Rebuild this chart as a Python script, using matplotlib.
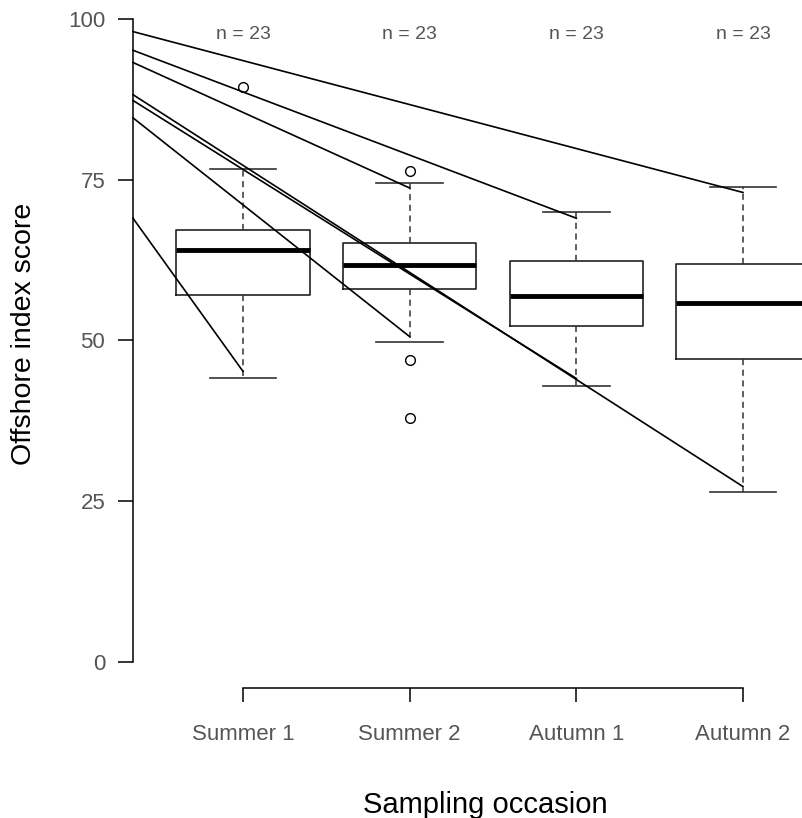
import matplotlib
matplotlib.use("Agg")
import matplotlib.pyplot as plt

# sampling occasions and box summaries
occasions = ["Summer 1", "Summer 2", "Autumn 1", "Autumn 2"]
n_obs = [23, 23, 23, 23]
q1 = [57.1, 58.0, 52.2, 47.1]
medians = [64.1, 61.7, 56.9, 55.8]
q3 = [67.2, 65.1, 62.3, 61.9]
whisk_lo = [44.2, 49.7, 42.9, 26.4]
whisk_hi = [76.7, 74.5, 70.0, 73.9]
outliers = [[89.4], [76.4, 46.9, 38.0], [], []]

# individual trajectories: value at the y axis -> value at an occasion
traj_start = [98.0, 95.1, 93.2, 88.2, 87.3, 84.6, 69.0]
traj_occasion = [4, 3, 2, 4, 3, 2, 1]
traj_end = [73.0, 69.0, 73.7, 27.3, 44.1, 50.6, 45.2]

grey = "#555555"
plt.rcParams['font.family'] = ['Liberation Sans', 'DejaVu Sans']

fig = plt.figure(figsize=(8.03, 8.18), dpi=100)
ax = fig.add_axes([133 / 803, 130 / 818, 720 / 803, 695 / 818])
ax.set_xlim(0.34, 4.66)
ax.set_ylim(-4, 104)

stats = []
for i in range(len(occasions)):
    stats.append(dict(med=medians[i], q1=q1[i], q3=q3[i],
                      whislo=whisk_lo[i], whishi=whisk_hi[i],
                      fliers=outliers[i], label=occasions[i]))

ax.bxp(stats, positions=[1, 2, 3, 4], widths=0.8, showfliers=True,
       boxprops=dict(color="#222222", linewidth=1.2),
       medianprops=dict(color="black", linewidth=3.5),
       whiskerprops=dict(color="#333333", linewidth=1.1, linestyle=(0, (4, 3))),
       capprops=dict(color="#333333", linewidth=1.2),
       capwidths=0.4,
       flierprops=dict(marker="o", markersize=7, markerfacecolor="none",
                       markeredgecolor="black", markeredgewidth=1.0),
       zorder=2)

x_left = ax.get_xlim()[0]
for s, k, e in zip(traj_start, traj_occasion, traj_end):
    ax.plot([x_left, k], [s, e], color="black", linewidth=1.2, zorder=3,
            clip_on=False)

for i, n in enumerate(n_obs):
    ax.text(i + 1, 97.5, f"n = {n}", ha="center", va="center",
            fontsize=14, color=grey)

for side in ["top", "right"]:
    ax.spines[side].set_visible(False)
ax.spines["left"].set_bounds(0, 100)
ax.spines["bottom"].set_bounds(1, 4)
ax.spines["left"].set_linewidth(1.1)
ax.spines["bottom"].set_linewidth(1.1)

ax.set_yticks([0, 25, 50, 75, 100])
ax.set_xticks([1, 2, 3, 4])
ax.set_xticklabels(occasions)
ax.tick_params(axis="y", length=11, width=1.1, pad=9, labelsize=16,
               labelcolor=grey)
ax.tick_params(axis="x", length=10, width=1.1, pad=16, labelsize=16,
               labelcolor=grey)

fig.text(485 / 803, 1 - 805 / 818, "Sampling occasion", ha="center",
         va="center", fontsize=21, color="black")
fig.text(24 / 803, 1 - 334 / 818, "Offshore index score", ha="center",
         va="center", rotation=90, fontsize=20.5, color="black")

fig.savefig("out.png", dpi=100)
